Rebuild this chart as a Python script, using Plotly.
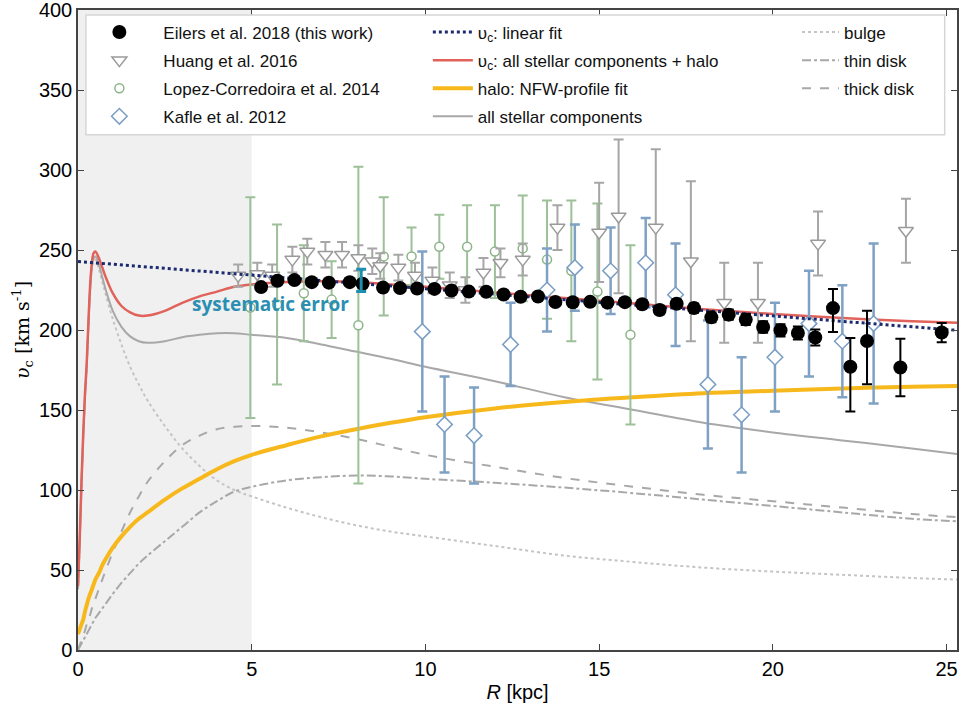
import plotly.graph_objects as go

# --- measured rotation curves ---
eilers_r = [5.27, 5.74, 6.23, 6.73, 7.22, 7.82, 8.19, 8.78, 9.27, 9.76, 10.26, 10.75, 11.25,
            11.75, 12.25, 12.74, 13.24, 13.74, 14.24, 14.74, 15.24, 15.74, 16.24, 16.74, 17.23,
            17.73, 18.23, 18.73, 19.22, 19.72, 20.22, 20.72, 21.22, 21.73, 22.23, 22.71, 23.67, 24.86]
eilers_v = [226.8, 230.8, 231.2, 229.9, 229.6, 229.9, 228.9, 226.5, 226.2, 225.9, 225.7, 224.7, 224.0,
            223.9, 222.2, 220.8, 220.9, 217.5, 217.3, 217.6, 217.1, 217.4, 216.1, 212.5, 216.4,
            213.7, 207.9, 209.6, 206.5, 201.9, 199.8, 198.1, 195.3, 213.7, 177.0, 193.1, 176.6, 198.4]
eilers_ep = [1.9, 1.4, 1.4, 1.3, 1.4, 1.6, 1.7, 1.4, 1.3, 1.3, 1.3, 1.4, 1.5,
             1.6, 1.7, 1.8, 1.9, 2.0, 2.1, 2.2, 2.3, 2.4, 2.5, 2.6, 2.7,
             2.9, 3.0, 3.2, 3.4, 3.6, 3.8, 4.1, 5.0, 12, 18, 19, 18, 6]
eilers_em = [1.9, 1.4, 1.4, 1.3, 1.4, 1.6, 1.7, 1.4, 1.3, 1.3, 1.3, 1.4, 1.5,
             1.6, 1.7, 1.8, 1.9, 2.0, 2.1, 2.2, 2.3, 2.4, 2.5, 2.6, 2.7,
             2.9, 3.0, 3.2, 3.4, 3.6, 3.8, 4.1, 5.0, 15, 28, 27, 18, 6]

huang_r = [4.61, 5.16, 5.59, 6.17, 6.6, 7.12, 7.6, 8.07, 8.47, 8.7, 9.22, 9.7, 10.2, 10.7, 11.15,
           11.67, 12.16, 12.8, 13.8, 15.0, 15.56, 16.63, 17.64, 18.6, 19.57, 21.3, 23.83]
huang_v = [234, 235, 234, 244, 249, 247, 247, 245, 243, 240, 239, 234, 231, 228, 225,
           236, 242, 244, 264, 261, 271, 264, 243, 217, 217, 254, 262]
huang_e = [7, 7, 7, 8, 8, 8, 8, 8, 8, 8, 8, 8, 8, 8, 8,
           9, 9, 10, 14, 31, 48, 49, 50, 25, 25, 20, 20]

lopez_r = [4.96, 5.73, 6.5, 7.3, 8.07, 8.8, 9.6, 10.4, 11.2, 12.0, 12.8, 13.5, 14.2, 14.95, 15.9]
lopez_v = [214, 216, 223, 219, 203, 246, 246, 252, 252, 249, 251, 244, 237, 224, 197]
lopez_e = [69, 50, 30, 24, 99, 37, 18, 20, 26, 29, 33, 37, 44, 55, 56]

kafle_r = [9.91, 10.55, 11.4, 12.45, 13.5, 14.3, 15.33, 16.34, 17.2, 18.13, 19.1, 20.06, 21.04, 22.0, 22.9]
kafle_v = [199, 141, 134, 191, 225, 239, 237, 242, 222, 166, 147, 183, 204, 193, 204]
kafle_e = [50, 30, 30, 26, 26, 27, 27, 28, 32, 40, 36, 34, 33, 35, 50]

# --- model curves ---
model_r = [0, 0.05, 0.1, 0.15, 0.2, 0.25, 0.3, 0.35, 0.4, 0.45, 0.5, 0.6, 0.7, 0.8, 1.0, 1.25,
           1.5, 1.75, 2.0, 2.5, 3.0, 3.5, 4.0, 4.5, 5, 6, 7, 8, 9, 10, 12, 14, 16, 18, 20, 22, 24, 25.3]
total_v = [40, 70, 105, 135, 160, 179, 205, 228, 242, 248, 249, 245, 239, 233, 223, 215,
           211, 209, 209, 212, 217, 221, 224, 227, 228.5, 230, 230.5, 230, 228.5, 227, 223.5, 220,
           216.5, 213, 210, 207.5, 205.5, 204.5]
stellar_v = [38, 68, 103, 133, 158, 177, 203, 226, 240, 245, 246, 241, 233, 225, 212, 202,
             196, 193, 192, 193, 195.5, 197, 198, 198, 197, 195, 191, 186.5, 182, 177, 168, 158,
             150, 142, 136, 131, 126, 122.5]
bulge_v = [38, 68, 103, 133, 158, 177, 203, 225, 238, 243, 244, 238, 230, 222, 207, 191,
           177, 166, 156, 140, 126, 115, 106, 100, 96, 89, 83, 78, 74, 71, 65, 59,
           55, 51.5, 49, 47, 45, 44]
thin_v = [0, 2, 4, 6, 8, 10, 12, 14, 16, 18, 20, 23, 26, 29, 35, 42,
          48, 54, 59, 68, 77, 86, 93, 99, 102, 106, 108, 109, 108.5, 107, 104.5, 101.5,
          98, 94, 90, 86, 82, 80.5]
thick_v = [0, 3, 6, 9, 12, 16, 19, 22, 26, 29, 32, 38, 44, 50, 61, 74,
           86, 96, 105, 118, 128, 134, 138, 139.5, 140, 139, 136, 132, 127, 122, 114.5, 107.5,
           102, 97, 93, 89, 85, 83]
halo_v = [10, 13, 16, 19, 24, 28, 32, 35, 38, 41, 44, 48, 53, 57, 64, 71,
          77, 82, 86, 94, 101, 107, 113, 118, 122, 128, 133.5, 138, 142, 145.5, 151, 155,
          158, 160.5, 162, 163.5, 164.5, 165]
linfit_r = [0, 25.3]
linfit_v = [242.8, 199.8]

x_ticks = [0, 5, 10, 15, 20, 25]
y_ticks = [0, 50, 100, 150, 200, 250, 300, 350, 400]

GREY = "#a8a8a8"
fig = go.Figure()

# curves (drawn first, under the data)
fig.add_trace(go.Scatter(x=model_r, y=bulge_v, mode="lines", name="bulge", legend="legend3",
                         legendgroup="bulge",
                         line=dict(color="#c4c4c4", width=2, dash="dot", shape="spline")))
fig.add_trace(go.Scatter(x=model_r, y=thin_v, mode="lines", name="thin disk", legend="legend3",
                         legendgroup="thin",
                         line=dict(color=GREY, width=2, dash="dashdot", shape="spline")))
fig.add_trace(go.Scatter(x=model_r, y=thick_v, mode="lines", name="thick disk", legend="legend3",
                         legendgroup="thick",
                         line=dict(color=GREY, width=2, dash="dash", shape="spline")))
fig.add_trace(go.Scatter(x=model_r, y=stellar_v, mode="lines", name="all stellar components",
                         legend="legend2", legendrank=4, legendgroup="stellar",
                         line=dict(color=GREY, width=2, shape="spline")))
fig.add_trace(go.Scatter(x=model_r, y=halo_v, mode="lines", name="halo: NFW-profile fit",
                         legend="legend2", legendrank=3, legendgroup="halo",
                         line=dict(color="#f7b81c", width=4, shape="spline")))
fig.add_trace(go.Scatter(x=model_r, y=total_v, mode="lines",
                         name="υ<sub>c</sub>: all stellar components + halo",
                         legend="legend2", legendrank=2, legendgroup="total",
                         line=dict(color="#e0625a", width=2.5, shape="spline")))

# literature data
fig.add_trace(go.Scatter(x=lopez_r, y=lopez_v, mode="markers", name="Lopez-Corredoira et al. 2014",
                         legend="legend", legendrank=3, legendgroup="lopez",
                         marker=dict(symbol="circle", size=9, color="white",
                                     line=dict(color="#8cb487", width=1.5)),
                         error_y=dict(array=lopez_e, color="#9cc097", thickness=2, width=5)))
fig.add_trace(go.Scatter(x=kafle_r, y=kafle_v, mode="markers", name="Kafle et al. 2012",
                         legend="legend", legendrank=4, legendgroup="kafle",
                         marker=dict(symbol="diamond", size=12, color="white",
                                     line=dict(color="#7a9ec4", width=1.5)),
                         error_y=dict(array=kafle_e, color="#7fa1c4", thickness=2.5, width=5)))
fig.add_trace(go.Scatter(x=huang_r, y=huang_v, mode="markers", name="Huang et al. 2016",
                         legend="legend", legendrank=2, legendgroup="huang",
                         marker=dict(symbol="triangle-down", size=13, color="white",
                                     line=dict(color="#9a9a9a", width=1.5)),
                         error_y=dict(array=huang_e, color="#a6a6a6", thickness=2, width=5)))

fig.add_trace(go.Scatter(x=linfit_r, y=linfit_v, mode="lines", name="υ<sub>c</sub>: linear fit",
                         legend="legend2", legendrank=1, legendgroup="linfit",
                         line=dict(color="#1c2a70", width=3, dash="dot")))

fig.add_trace(go.Scatter(x=eilers_r, y=eilers_v, mode="markers", name="Eilers et al. 2018 (this work)",
                         legend="legend", legendrank=1, legendgroup="eilers",
                         marker=dict(symbol="circle", size=14, color="black"),
                         error_y=dict(type="data", symmetric=False, array=eilers_ep,
                                      arrayminus=eilers_em, color="black", thickness=2, width=5)))

# systematic error bar
fig.add_trace(go.Scatter(x=[8.15], y=[231], mode="markers", showlegend=False,
                         marker=dict(size=1, color="#1f8fb0"),
                         error_y=dict(array=[7], color="#1f8fb0", thickness=3, width=5)))
fig.add_annotation(x=5.55, y=216, text="<b>systematic error</b>", showarrow=False,
                   font=dict(family="Open Sans", size=19, color="#2a8fb2"))

# shaded inner region and legend frame
fig.add_shape(type="rect", x0=0, x1=5, y0=0, y1=400, fillcolor="#f0f0f0",
              line=dict(width=0), layer="below")
fig.add_shape(type="rect", xref="paper", yref="paper", x0=0.009, x1=0.986, y0=0.805, y1=0.992,
              fillcolor="white", line=dict(color="#d6d6d6", width=1.5), layer="above")

leg_font = dict(family="Liberation Sans, Arial", size=17, color="#111")
leg_common = dict(bgcolor="rgba(0,0,0,0)", font=leg_font, yanchor="top", y=0.993,
                  tracegroupgap=3)

fig.update_layout(
    width=980, height=707,
    margin=dict(l=78, r=23, t=10, b=57),
    paper_bgcolor="white", plot_bgcolor="white",
    legend=dict(x=-0.003, itemwidth=78, **leg_common),
    legend2=dict(x=0.398, itemwidth=40, **leg_common),
    legend3=dict(x=0.818, itemwidth=37, **leg_common),
    xaxis=dict(range=[0, 25.3], tickvals=x_ticks, ticks="inside", ticklen=6, mirror="allticks",
               showline=True, linecolor="#444", linewidth=1.5, showgrid=False, zeroline=False,
               automargin=False, ticklabeloverflow="allow",
               tickfont=dict(family="Liberation Sans, Arial", size=20, color="black"),
               title=dict(text="<i>R</i> [kpc]", standoff=6,
                          font=dict(family="Liberation Sans, Arial", size=20, color="black"))),
    yaxis=dict(range=[0, 400], tickvals=y_ticks, ticks="inside", ticklen=6, mirror="allticks",
               showline=True, linecolor="#444", linewidth=1.5, showgrid=False, zeroline=False,
               automargin=False, ticklabeloverflow="allow",
               tickfont=dict(family="Liberation Sans, Arial", size=20, color="black"),
               title=dict(text="<i>υ</i><sub>c</sub> [km s<sup>-1</sup>]", standoff=4,
                          font=dict(family="DejaVu Serif", size=19, color="black"))),
)

# page body has an 8px default margin; drop it so the figure fills the window
fig.write_html("out.html", config={"displayModeBar": False},
               post_script="document.body.style.margin='0px';document.body.style.overflow='hidden';")
